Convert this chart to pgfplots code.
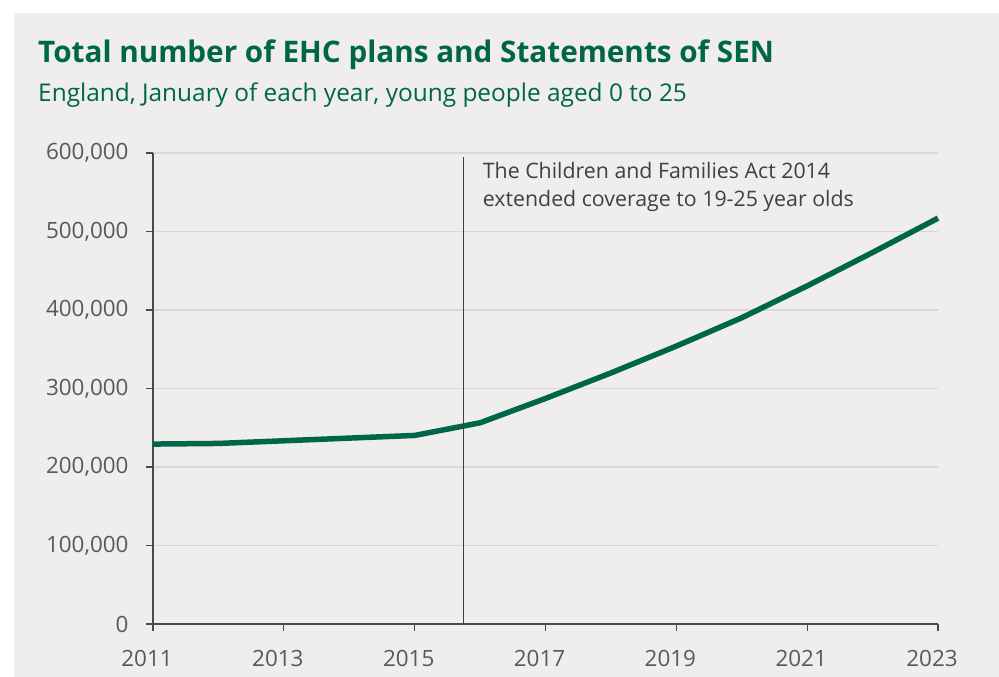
\documentclass[border=0pt]{standalone}
\usepackage{fontspec}
\setmainfont{Open Sans}
\usepackage{pgfplots}
\pgfplotsset{compat=1.18}
\definecolor{dfegreen}{HTML}{00664A}
\definecolor{panel}{HTML}{EFEEEC}
\definecolor{gridc}{HTML}{DAD8D7}
\definecolor{axisc}{HTML}{4A4A4A}
\definecolor{labc}{HTML}{595959}
\definecolor{notec}{HTML}{404040}

\begin{document}
\begin{tikzpicture}[x=1bp,y=1bp]
\fill[white] (0,0) rectangle (999,677);
\fill[panel] (14,0) rectangle (999,664);
\node[anchor=base west, inner sep=0pt, text=dfegreen,
      font=\fontsize{29.8}{34}\selectfont\bfseries] at (38,614)
      {Total number of EHC plans and Statements of SEN};
\node[anchor=base west, inner sep=0pt, text=dfegreen,
      font=\fontsize{24.5}{28}\selectfont] at (38,575)
      {England, January of each year, young people aged 0 to 25};

\begin{axis}[
    at={(153bp,53bp)}, anchor=south west,
    scale only axis, width=785bp, height=471bp,
    xmin=2011, xmax=2023, ymin=0, ymax=600000,
    axis lines*=left,
    axis line style={-, axisc, line width=1.3bp},
    tick style={axisc, line width=1.3bp},
    tick align=outside, major tick length=7bp,
    xtick={2011,2013,...,2023},
    xticklabels={2011,2013,2015,2017,2019,2021,2023},
    ytick={0,100000,...,600000},
    yticklabels={0,{100,000},{200,000},{300,000},{400,000},{500,000},{600,000}},
    ymajorgrids=true,
    grid style={gridc, line width=1.2bp},
    ticklabel style={text=labc, font=\fontsize{22.5}{26}\selectfont},
    x tick label style={yshift=-16bp, xshift=-6bp},
    y tick label style={xshift=-14bp},
    scaled y ticks=false,
    clip=false,
]
\addplot[dfegreen, line width=5.5bp, sharp plot] coordinates {
(2011,229200)(2012,230000)(2013,233400)(2014,236800)(2015,240200)
(2016,256300)(2017,287300)(2018,319800)(2019,354000)(2020,390100)
(2021,430700)(2022,473300)(2023,517000)
};
\draw[notec, line width=0.9bp] (axis cs:2015.74,0) -- (axis cs:2015.74,595000);
\node[anchor=base west, inner sep=0pt, text=notec, font=\fontsize{21.4}{25}\selectfont]
   at (axis cs:2016.04,568000) {The Children and Families Act 2014};
\node[anchor=base west, inner sep=0pt, text=notec, font=\fontsize{21.4}{25}\selectfont]
   at (axis cs:2016.04,531500) {extended coverage to 19-25 year olds};
\end{axis}
\end{tikzpicture}
\end{document}
